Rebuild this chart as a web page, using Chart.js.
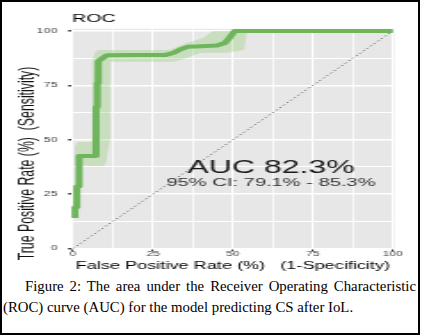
<!DOCTYPE html>
<html>
<head>
<meta charset="utf-8">
<script src="https://cdn.jsdelivr.net/npm/chart.js@4.4.1/dist/chart.umd.min.js"></script>
<style>
  html, body { margin: 0; padding: 0; background: #fff; }
  #page { position: relative; width: 421px; height: 335px; overflow: hidden; }
  /* the source figure is stretched sideways, so the plot is drawn narrow and widened */
  #plot { position: absolute; left: 0; top: 0; width: 236px; height: 272px; transform: scaleX(1.78); transform-origin: 0 0; }
  #frame { position: absolute; left: 0; top: 0; width: 420px; height: 335px; border: 2px solid #000; box-sizing: border-box; pointer-events: none; }
  .cap { position: absolute; left: 3px; width: 413px; font-family: 'Liberation Serif', 'Times New Roman', serif; font-size: 14.8px; line-height: 21px; color: #000; }
  #cap1 { top: 276px; text-indent: 22px; text-align: justify; text-align-last: justify; }
  #cap2 { top: 297px; white-space: nowrap; }
</style>
</head>
<body>
<div id="page">
  <div id="plot"><canvas id="roc" width="236" height="272" style="width:236px;height:272px"></canvas></div>
  <div class="cap" id="cap1">Figure 2: The area under the Receiver Operating Characteristic</div>
  <div class="cap" id="cap2">(ROC) curve (AUC) for the model predicting CS after IoL.</div>
  <div id="frame"></div>
</div>
<script>
// ROC curve (percent)
const fpr = [0.6, 0.6, 1.2, 1.2, 1.9, 1.9, 7.2, 7.2, 7.6, 7.6, 7.9, 7.9, 8.4, 10.6, 20, 29, 31.5, 33.5, 36, 40, 45, 47.5, 49, 50.5, 100];
const tpr = [14, 19, 19, 28.5, 28.5, 42.5, 42.5, 65, 65, 76, 76, 86, 86.7, 88.8, 88.9, 89, 90, 91.5, 92.8, 93, 93.3, 94.5, 97, 100, 100];

// confidence band outline (upper edge, then lower edge back)
const bandX = [0.6, 0.6, 1.5, 5.8, 6.2, 6.0, 6.8, 7.8, 30, 33, 35.6, 40.6, 43.8, 54.4, 53.5, 50, 48, 39.7, 35.6, 32, 30, 11.6, 11.6, 10.8, 10.4, 9.5];
const bandY = [38, 47, 49, 49, 52, 86, 90, 91.3, 91.3, 93, 94.5, 96.8, 100, 100, 91.3, 90.5, 90, 89.9, 87.6, 86, 85.8, 85.8, 50, 44, 39.5, 38];

// chance line
const diagX = [0, 100];
const diagY = [0, 100];

const gridVals = [0, 12.5, 25, 37.5, 50, 62.5, 75, 87.5, 100];
const majorVals = [0, 25, 50, 75, 100];
const tickLabels = ['0', '25', '50', '75', '100'];

const titleText = 'ROC';
const xTitle = 'False Positive Rate (%)   (1-Specificity)';
const yTitle = 'True Positive Rate (%)  (Sensitivity)';
const aucText = 'AUC 82.3%';
const ciText = '95% CI: 79.1% - 85.3%';
const aucPos = [61.9, 37.0];
const ciPos = [61.9, 30.1];

const toPts = (xs, ys) => xs.map((x, i) => ({x: x, y: ys[i]}));
const isMajor = v => majorVals.indexOf(v) >= 0;
const tickLabel = v => { const i = majorVals.indexOf(v); return i < 0 ? '' : tickLabels[i]; };

const panelBg = {
    id: 'panelBg',
    beforeDraw(chart) {
        const {ctx, chartArea: a} = chart;
        ctx.save();
        ctx.fillStyle = '#e7e7e7';
        ctx.fillRect(a.left, a.top, a.right - a.left, a.bottom - a.top);
        ctx.restore();
    }
};

const textLayer = {
    id: 'textLayer',
    afterDraw(chart) {
        const {ctx, chartArea: a, scales: {x, y}} = chart;
        ctx.save();
        ctx.textAlign = 'center';
        ctx.textBaseline = 'middle';
        ctx.fillStyle = '#1a1a1a';
        ctx.font = "18px 'Liberation Sans'";
        ctx.fillText(aucText, x.getPixelForValue(aucPos[0]), y.getPixelForValue(aucPos[1]));
        ctx.fillStyle = '#333';
        ctx.font = "11.3px 'Liberation Sans'";
        ctx.fillText(ciText, x.getPixelForValue(ciPos[0]), y.getPixelForValue(ciPos[1]));

        // plot title
        ctx.textAlign = 'left';
        ctx.fillStyle = '#000';
        ctx.font = "11px 'Liberation Sans'";
        ctx.fillText(titleText, a.left + 0.5, 19);

        // y axis title, sits a bit below the panel centre like the source
        ctx.translate(15.5, 163.5);
        ctx.rotate(-Math.PI / 2);
        ctx.textAlign = 'center';
        ctx.fillStyle = '#111';
        ctx.font = "12.3px 'Liberation Sans'";
        ctx.fillText(yTitle, 0, 0);
        ctx.restore();
    }
};

new Chart(document.getElementById('roc'), {
    type: 'scatter',
    data: {
        datasets: [
            {
                label: 'ROC',
                data: toPts(fpr, tpr),
                showLine: true,
                borderColor: '#6fb55c',
                borderWidth: 4,
                borderJoinStyle: 'round',
                pointRadius: 0,
                fill: false,
                order: 0
            },
            {
                label: 'Chance',
                data: toPts(diagX, diagY),
                showLine: true,
                borderColor: '#555',
                borderWidth: 1,
                borderDash: [1, 2.2],
                pointRadius: 0,
                fill: false,
                order: 1
            },
            {
                label: '95% CI',
                data: toPts(bandX, bandY),
                showLine: true,
                borderWidth: 0,
                borderColor: 'rgba(0,0,0,0)',
                backgroundColor: 'rgba(140,200,110,0.33)',
                pointRadius: 0,
                fill: 'shape',
                order: 2
            }
        ]
    },
    options: {
        responsive: false,
        animation: false,
        layout: {
            padding: {top: 28.8, right: 14.4, bottom: 0, left: 0}
        },
        plugins: {
            legend: {display: false},
            tooltip: {enabled: false}
        },
        scales: {
            x: {
                type: 'linear',
                min: -0.5,
                max: 100.5,
                afterFit: s => { s.height = 22.85; },
                afterBuildTicks: s => { s.ticks = gridVals.map(v => ({value: v})); },
                ticks: {
                    autoSkip: false,
                    maxRotation: 0,
                    padding: -1,
                    color: '#444',
                    font: {family: 'Liberation Sans', size: 6.8},
                    callback: v => tickLabel(v)
                },
                grid: {
                    color: '#fff',
                    lineWidth: c => (c.tick && isMajor(c.tick.value)) ? 1.1 : 0.8,
                    tickLength: 2,
                    tickColor: c => (c.tick && isMajor(c.tick.value)) ? '#333' : 'rgba(0,0,0,0)'
                },
                border: {display: false},
                title: {
                    display: true,
                    text: xTitle,
                    color: '#000',
                    font: {family: 'Liberation Sans', size: 10.2},
                    padding: {top: 2, bottom: 0}
                }
            },
            y: {
                type: 'linear',
                min: -0.3,
                max: 101,
                afterFit: s => { s.width = 40.1; },
                afterBuildTicks: s => { s.ticks = gridVals.map(v => ({value: v})); },
                ticks: {
                    autoSkip: false,
                    padding: 6,
                    color: '#444',
                    font: {family: 'Liberation Sans', size: 7},
                    callback: v => tickLabel(v)
                },
                grid: {
                    color: '#fff',
                    lineWidth: c => (c.tick && isMajor(c.tick.value)) ? 1.4 : 1.0,
                    tickLength: 1.8,
                    tickColor: c => (c.tick && isMajor(c.tick.value)) ? '#333' : 'rgba(0,0,0,0)'
                },
                border: {display: false}
            }
        }
    },
    plugins: [panelBg, textLayer]
});
</script>
</body>
</html>
